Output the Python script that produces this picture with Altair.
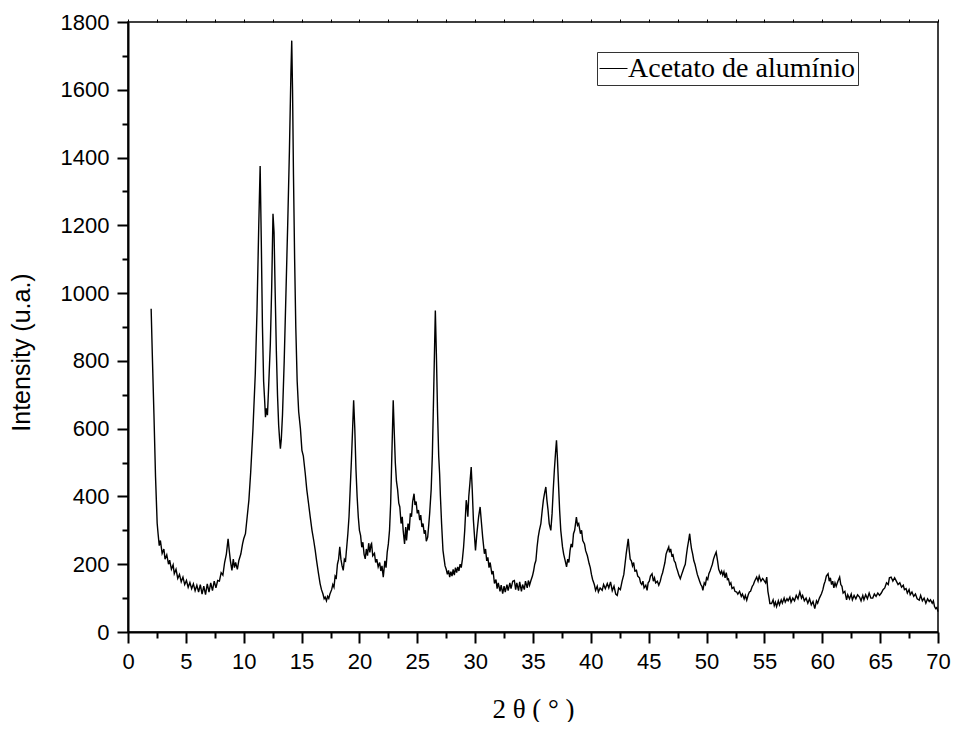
import altair as alt
import pandas as pd

# 2-theta (deg), intensity (u.a.), per region
seg_a = [(2.0,954),(2.1,820),(2.24,645),(2.38,457),(2.52,321),(2.6,290),(2.7,255),(2.8,270),(2.95,232),(3.1,245),
         (3.2,215),(3.35,228),(3.5,200),(3.6,212),(3.75,185),(3.9,198),(4.0,172),(4.15,185),(4.3,158),(4.45,170),
         (4.6,148),(4.75,162),(4.9,140),(5.05,152),(5.2,132),(5.35,146),(5.5,128),(5.65,142),(5.8,122),(5.95,138),
         (6.1,118),(6.25,140),(6.4,112),(6.55,135),(6.7,110),(6.85,142),(7.0,118),(7.15,145),(7.3,122),(7.45,150),
         (7.6,130),(7.75,152),(7.9,150),(8.05,175),(8.2,168),(8.35,205),(8.5,230),(8.65,275),(8.75,240),(8.85,210),
         (8.98,182),(9.1,215),(9.2,190),(9.3,205),(9.45,185),(9.58,211),(9.75,230),(9.9,260),(10.0,275)]
seg_b = [(10.15,290),(10.3,340),(10.45,390),(10.6,470),(10.8,600),(11.0,762),(11.15,950),(11.3,1200),(11.42,1375),
         (11.52,1150),(11.62,900),(11.72,740),(11.8,690),(11.88,634),(11.96,660),(12.05,640),(12.15,720),(12.3,850),
         (12.42,1020),(12.53,1234),(12.62,1180),(12.72,1000),(12.82,830),(12.92,700),(13.02,610),(13.1,570),
         (13.17,541),(13.25,570),(13.35,640),(13.5,800),(13.65,1000),(13.8,1200),(13.95,1420),(14.08,1650),
         (14.15,1745),(14.22,1600),(14.3,1350),(14.4,1100),(14.5,900),(14.62,740),(14.75,650),(14.9,600),
         (15.03,536),(15.15,520),(15.32,467),(15.45,420),(15.6,380),(15.75,339),(15.9,300),(16.05,270),(16.18,241),
         (16.3,210),(16.45,175),(16.6,143),(16.72,125),(16.85,112),(16.95,98),(17.04,103),(17.15,92),(17.25,105),
         (17.35,99),(17.45,112)]
seg_c = [(17.6,125),(17.7,140),(17.8,132),(17.9,165),(18.0,160),(18.1,200),(18.2,215),(18.3,251),(18.4,215),
         (18.5,195),(18.6,182),(18.7,215),(18.8,210),(18.9,250),(19.0,290),(19.1,340),(19.2,420),(19.3,500),
         (19.4,590),(19.5,684),(19.6,600),(19.7,480),(19.8,400),(19.9,340),(20.0,300),(20.1,285),(20.2,250),
         (20.3,265),(20.4,230),(20.5,216),(20.6,245),(20.7,225),(20.8,262),(20.9,235),(21.0,258),(21.05,261),
         (21.15,225),(21.3,232),(21.4,205),(21.5,215),(21.62,192),(21.75,205),(21.85,180),(21.95,195),(22.06,162),
         (22.2,210),(22.3,190),(22.4,235),(22.5,260),(22.6,300),(22.7,380),(22.8,520),(22.92,684),(23.0,600),
         (23.1,500),(23.2,445),(23.3,420),(23.4,380),(23.49,369),(23.6,320),(23.7,340),(23.78,300),(23.9,260),
         (24.0,310),(24.07,270),(24.2,320),(24.3,300),(24.4,350),(24.5,340),(24.6,385),(24.72,408),(24.8,375),
         (24.9,385),(25.0,350),(25.1,360),(25.21,330),(25.3,345),(25.4,310),(25.5,320),(25.6,290),(25.7,300),
         (25.78,268),(25.9,280),(26.0,320),(26.07,350),(26.2,420),(26.3,520),(26.4,680),(26.5,850),(26.56,949),
         (26.65,820),(26.75,650),(26.85,520),(26.93,467),(27.0,400),(27.1,320),(27.22,241),(27.3,220),(27.4,195),
         (27.5,185),(27.6,170),(27.7,182),(27.8,162),(27.9,178),(28.0,165),(28.1,185),(28.2,168),(28.3,190),
         (28.4,175),(28.5,192),(28.6,180),(28.7,200),(28.8,190)]
seg_d = [(28.9,215),(29.0,250),(29.1,300),(29.23,389),(29.3,370),(29.37,340),(29.45,400),(29.55,440),(29.66,487),
         (29.75,420),(29.85,330),(29.95,280),(30.03,241),(30.15,290),(30.3,340),(30.43,369),(30.55,320),(30.65,280),
         (30.8,231),(30.9,245),(31.0,210),(31.1,220),(31.2,190),(31.3,205),(31.45,170),(31.55,180),(31.67,143),
         (31.8,155),(31.9,128),(32.0,145),(32.15,120),(32.25,138),(32.38,113),(32.5,135),(32.6,118),(32.75,140),
         (32.85,122),(33.0,145),(33.1,128),(33.25,150),(33.39,152),(33.5,125),(33.6,145),(33.75,122),(33.85,148),
         (34.0,120),(34.1,140),(34.25,125),(34.35,150),(34.5,130),(34.6,152),(34.7,138),(34.82,152),(34.95,165),
         (35.05,180),(35.15,200),(35.25,211),(35.35,250),(35.45,280),(35.55,300),(35.68,320),(35.8,360),(35.9,390),
         (36.0,410),(36.11,428),(36.2,390),(36.3,360),(36.4,320),(36.54,300),(36.65,350),(36.75,420),(36.85,480),
         (36.95,530),(37.03,566),(37.1,520),(37.2,440),(37.3,360),(37.4,300),(37.55,251),(37.65,230),(37.75,215),
         (37.9,192),(38.0,215),(38.1,205),(38.2,240),(38.3,260),(38.4,250),(38.5,290),(38.6,300),(38.75,339),
         (38.85,315),(38.95,320),(39.1,290),(39.2,300),(39.3,270),(39.45,260),(39.55,240),(39.7,225),(39.85,202),
         (39.95,190),(40.05,170),(40.15,155),(40.3,140),(40.41,123),(40.55,135),(40.65,118),(40.8,130),(40.98,123)]
seg_e = [(41.1,140),(41.25,128),(41.42,143),(41.55,130),(41.7,148),(41.85,122),(42.0,135),(42.15,112),(42.28,108),
         (42.4,130),(42.55,125),(42.7,150),(42.85,170),(42.95,200),(43.05,230),(43.15,255),(43.23,275),(43.32,240),
         (43.4,215),(43.5,210),(43.6,195),(43.7,205),(43.8,180),(43.94,182),(44.05,165),(44.2,160),(44.3,145),
         (44.4,140),(44.5,150),(44.6,130),(44.75,138),(44.86,123),(44.95,145),(45.05,150),(45.15,165),(45.29,172),
         (45.4,150),(45.5,160),(45.6,145),(45.75,150),(45.87,138),(46.0,150),(46.1,165),(46.2,175),(46.3,190),
         (46.4,205),(46.5,230),(46.6,240),(46.73,251),(46.8,235),(46.9,245),(47.0,225),(47.1,228),(47.2,210),
         (47.3,205),(47.4,190),(47.5,180),(47.6,168),(47.73,157),(47.85,170),(47.95,180),(48.05,190),(48.16,200),
         (48.25,225),(48.35,250),(48.45,270),(48.54,290),(48.62,265),(48.7,245),(48.8,230),(48.9,210),(49.0,200),
         (49.1,185),(49.2,170),(49.3,160),(49.4,150),(49.5,140),(49.6,135),(49.68,123),(49.8,145),(49.9,140),
         (50.0,160),(50.1,155),(50.2,172),(50.3,180),(50.4,190),(50.5,200),(50.6,215),(50.7,225),(50.83,236),
         (50.95,210),(51.05,185),(51.2,172),(51.3,180),(51.4,168),(51.5,178),(51.6,160),(51.7,175),(51.8,155),
         (51.89,157),(52.0,140),(52.1,145),(52.2,128),(52.35,132),(52.45,120),(52.6,118),(52.7,112),(52.85,120),
         (53.0,105),(53.1,112),(53.25,98),(53.35,108),(53.47,94),(53.6,110),(53.7,118),(53.8,120),(53.95,135),
         (54.05,140),(54.15,150),(54.33,162),(54.45,150),(54.55,165),(54.7,150),(54.85,158),(55.0,150),(55.1,145),
         (55.2,162),(55.3,120),(55.4,100),(55.47,84)]
seg_f = [(55.62,84),(55.75,95),(55.85,78),(55.95,88),(56.05,75),(56.2,92),(56.3,80),(56.45,95),(56.55,85),
         (56.7,100),(56.8,88),(56.95,98),(57.05,92),(57.2,103),(57.3,88),(57.45,100),(57.6,92),(57.75,108),(57.9,98),
         (58.06,118),(58.2,100),(58.3,108),(58.45,92),(58.6,100),(58.75,85),(58.9,98),(59.05,80),(59.2,90),
         (59.35,69),(59.5,92),(59.6,85),(59.75,100),(59.93,113),(60.05,125),(60.15,140),(60.25,150),(60.35,165),
         (60.5,172),(60.6,150),(60.7,160),(60.8,140),(60.9,150),(61.0,130),(61.1,145),(61.2,135),(61.35,150),
         (61.5,162),(61.6,140),(61.7,135),(61.8,115),(61.95,120),(62.1,95),(62.2,110),(62.35,98),(62.5,112),
         (62.6,95),(62.75,108),(62.9,98),(63.05,110),(63.22,103),(63.35,92),(63.5,108),(63.6,95),(63.75,110),
         (63.9,98),(64.05,115),(64.2,100),(64.36,100),(64.5,112),(64.65,105),(64.8,115),(64.95,108),(65.1,115),
         (65.25,125),(65.4,130),(65.55,145),(65.7,140),(65.8,160),(65.95,162),(66.1,150),(66.25,160),(66.4,150),
         (66.55,140),(66.7,145),(66.85,132),(67.0,138),(67.1,125),(67.24,128),(67.35,115),(67.5,125),(67.6,110),
         (67.75,118),(67.9,105),(68.05,112),(68.2,98),(68.38,94),(68.5,108),(68.65,92),(68.8,100),(68.95,85),
         (69.1,98),(69.24,90),(69.35,95),(69.5,85),(69.6,92),(69.7,75),(69.8,69),(69.9,72),(70.0,60)]

series_name = "Acetato de alumínio"
x_major = [0, 5, 10, 15, 20, 25, 30, 35, 40, 45, 50, 55, 60, 65, 70]
x_minor = [2.5, 7.5, 12.5, 17.5, 22.5, 27.5, 32.5, 37.5, 42.5, 47.5, 52.5, 57.5, 62.5, 67.5]
y_major = [0, 200, 400, 600, 800, 1000, 1200, 1400, 1600, 1800]
y_minor = [100, 300, 500, 700, 900, 1100, 1300, 1500, 1700]

df = pd.DataFrame(seg_a + seg_b + seg_c + seg_d + seg_e + seg_f, columns=["two_theta", "intensity"])
df["series"] = series_name

xscale = alt.Scale(domain=[0, 70], nice=False, zero=False)
yscale = alt.Scale(domain=[0, 1800], nice=False)

base = alt.Chart(df)

main = base.mark_line(strokeWidth=1.4).encode(
    x=alt.X("two_theta:Q", scale=xscale,
            axis=alt.Axis(orient="bottom", values=x_major, tickSize=11, tickWidth=2, domainWidth=2,
                          grid=False, labelFontSize=22, labelPadding=8, labelFlush=False, format="d",
                          title="2 θ ( ° )", titleFont="Liberation Serif", titleFontSize=27,
                          titleFontWeight="normal", titlePadding=24)),
    y=alt.Y("intensity:Q", scale=yscale,
            axis=alt.Axis(orient="left", values=y_major, tickSize=11, tickWidth=2, domainWidth=2,
                          grid=False, labelFontSize=22, labelPadding=8, labelFlush=False, format="d",
                          title="Intensity (u.a.)", titleFont="Liberation Sans", titleFontSize=25,
                          titleFontWeight="normal", titleX=-94, titleY=330,
                          titleBaseline="bottom", titleAngle=270)),
    color=alt.Color("series:N", scale=alt.Scale(range=["black"]),
                    legend=alt.Legend(title=None, orient="none", legendX=469, legendY=30,
                                      symbolType="stroke", symbolSize=784, symbolStrokeWidth=1,
                                      symbolStrokeColor="black",
                                      labelFont="Liberation Serif", labelFontSize=28, labelOffset=0,
                                      labelLimit=500, labelColor="black",
                                      strokeColor="#333333", padding=2, fillColor="white")),
)

minor = base.mark_line(opacity=0).encode(
    x=alt.X("two_theta:Q", scale=xscale,
            axis=alt.Axis(orient="bottom", values=x_minor, tickSize=6, tickWidth=2, labels=False,
                          domain=False, grid=False, title="")),
    y=alt.Y("intensity:Q", scale=yscale,
            axis=alt.Axis(orient="left", values=y_minor, tickSize=6, tickWidth=2, labels=False,
                          domain=False, grid=False, title="")),
)

frame = base.mark_line(opacity=0).encode(
    x=alt.X("two_theta:Q", scale=xscale,
            axis=alt.Axis(orient="top", values=x_major + x_minor, tickSize=3, tickWidth=1,
                          labels=False, domain=False, grid=False, title="")),
)

chart = alt.layer(main, minor, frame).resolve_axis(
    x="independent", y="independent"
).properties(
    width=810, height=610,
    autosize=alt.AutoSizeParams(type="none"),
    padding={"left": 120, "top": 14, "right": 13, "bottom": 90},
).configure_view(
    stroke="black", strokeWidth=1.5
).configure_axis(
    labelFont="Liberation Sans", labelColor="black", tickColor="black",
    domainColor="black", titleColor="black"
)

chart.save("out.html", embed_options={"renderer": "svg", "actions": False})
